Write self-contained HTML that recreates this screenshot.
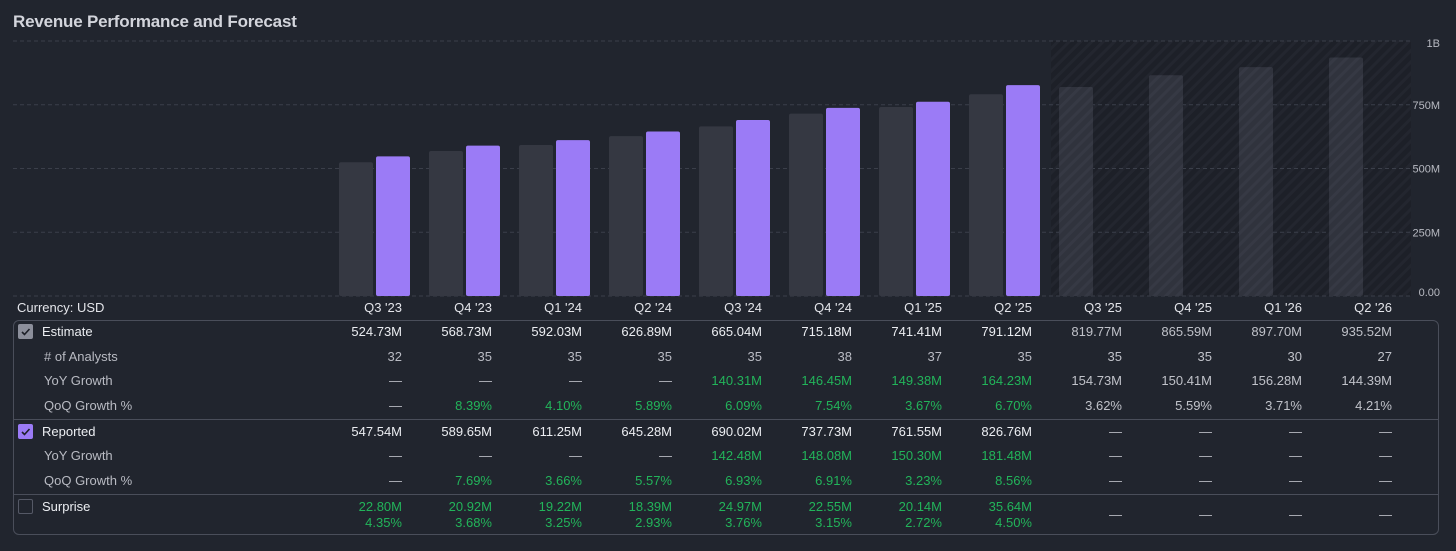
<!DOCTYPE html>
<html><head><meta charset="utf-8">
<style>
html,body{margin:0;padding:0;background:#21252e;width:1456px;height:551px;overflow:hidden;font-family:"Liberation Sans",sans-serif;}
#title{position:absolute;left:13px;top:12px;font-size:17px;font-weight:bold;color:#d3d5dc;letter-spacing:-0.2px;}
svg{position:absolute;left:0;top:0;}
.t{position:absolute;font-size:13px;white-space:nowrap;}
#box{position:absolute;left:13px;top:320px;width:1426px;height:215px;border:1px solid #4a4e5a;border-radius:6px;box-sizing:border-box;}
.div{position:absolute;left:13px;width:1426px;height:1px;background:#4a4e5a;}
.cb{position:absolute;width:15px;height:15px;border-radius:2px;box-sizing:border-box;}
</style></head><body>
<div id="title">Revenue Performance and Forecast</div>
<svg id="chart" width="1456" height="551"></svg>
<div id="box"></div>
<div id="table"></div>
<script>
const categories=["Q3 '23","Q4 '23","Q1 '24","Q2 '24","Q3 '24","Q4 '24","Q1 '25","Q2 '25","Q3 '25","Q4 '25","Q1 '26","Q2 '26"];
const estimate=[524.73,568.73,592.03,626.89,665.04,715.18,741.41,791.12,819.77,865.59,897.70,935.52];
const reported=[547.54,589.65,611.25,645.28,690.02,737.73,761.55,826.76,null,null,null,null];
const analysts=["32","35","35","35","35","38","37","35","35","35","30","27"];
const estYoY=["—","—","—","—","140.31M","146.45M","149.38M","164.23M","154.73M","150.41M","156.28M","144.39M"];
const estQoQ=["—","8.39%","4.10%","5.89%","6.09%","7.54%","3.67%","6.70%","3.62%","5.59%","3.71%","4.21%"];
const repYoY=["—","—","—","—","142.48M","148.08M","150.30M","181.48M","—","—","—","—"];
const repQoQ=["—","7.69%","3.66%","5.57%","6.93%","6.91%","3.23%","8.56%","—","—","—","—"];
const surpriseAbs=["22.80M","20.92M","19.22M","18.39M","24.97M","22.55M","20.14M","35.64M","—","—","—","—"];
const surprisePct=["4.35%","3.68%","3.25%","2.93%","3.76%","3.15%","2.72%","4.50%","","","",""];
const yTicks=[0,250,500,750,1000];
const yTickLabels=["0.00","250M","500M","750M","1B"];

const NS="http://www.w3.org/2000/svg";
const svg=document.getElementById('chart');
const y0=296,yTop=41,yMax=1000;
const y=v=>y0-(v/yMax)*(y0-yTop);
const xCol=i=>339+90*i; // estimate bar left
const rightEdge=i=>402+90*i;
function mk(tag,attrs){const e=document.createElementNS(NS,tag);for(const k in attrs)e.setAttribute(k,attrs[k]);svg.appendChild(e);return e;}
// defs
const defs=mk('defs',{});
defs.innerHTML='<pattern id="hatch" width="8" height="8" patternUnits="userSpaceOnUse" patternTransform="rotate(45)"><rect width="8" height="8" fill="#1d2028"/><rect width="3" height="8" fill="#23262f"/></pattern><pattern id="hatch2" width="8" height="8" patternUnits="userSpaceOnUse" patternTransform="rotate(45)"><rect width="8" height="8" fill="#30333d"/><rect width="3" height="8" fill="#363944"/></pattern>';
const firstF=reported.findIndex(v=>v===null);
const fr=mk('rect',{x:xCol(firstF)-8,y:yTop,width:1411-(xCol(firstF)-8),height:y0-yTop,fill:'url(#hatch)'});


yTicks.forEach((t,k)=>{
  const l=mk('line',{x1:13,x2:1411,y1:y(t),y2:y(t),stroke:'#3b3f4a','stroke-dasharray':'4 3','stroke-width':1});
  
  
  const tx=mk('text',{x:1440,y:y(t)+4+(k==0?-4:0)+(k==4?2:0),'text-anchor':'end','font-size':11,fill:'#b8bac2','font-family':'Liberation Sans'});
  tx.textContent=yTickLabels[k];
  
  
});
categories.forEach((c,i)=>{
  const f=reported[i]===null;
  const b=mk('rect',{x:xCol(i),y:y(estimate[i]),width:34,height:y0-y(estimate[i]),rx:2,fill:f?'url(#hatch2)':'#353842'});
  
  
  if(!f){
    const r=mk('rect',{x:xCol(i)+37,y:y(reported[i]),width:34,height:y0-y(reported[i]),rx:2,fill:'#9b7bf6'});
    
    
  }
});
// table
const T=document.getElementById('table');
function txt(s,x,yy,color,anchorRight,name){
  const d=document.createElement('div');d.className='t';d.textContent=s;d.style.color=color;d.style.top=(yy-8)+'px';
  if(anchorRight){d.style.right=(1456-x)+'px';}else d.style.left=x+'px';
  
  
  T.appendChild(d);
}
txt('Currency: USD',17,308,'#e4e5ea',false,'currency-label');
categories.forEach((c,i)=>txt(c,rightEdge(i),308,'#e4e5ea',true,'x-axis-label'));
const W='#eceef2',G='#c0c2c9',GR='#22b45a',LG='#b9bbc3';
function colorFor(s,i,base){ if(s==='—')return LG; const f=reported[i]===null; if(base==='g')return f?G:GR; return f?G:W;}
const rows=[
 {label:'Estimate',y:332,vals:estimate.map(v=>v.toFixed(2)+'M'),b:'w',main:true,name:'estimate-row'},
 {label:'# of Analysts',y:357,vals:analysts,b:'a',name:'analysts-row'},
 {label:'YoY Growth',y:381,vals:estYoY,b:'g',name:'estimate-yoy-row'},
 {label:'QoQ Growth %',y:406,vals:estQoQ,b:'g',name:'estimate-qoq-row'},
 {label:'Reported',y:432,vals:reported.map(v=>v===null?'—':v.toFixed(2)+'M'),b:'w',main:true,name:'reported-row'},
 {label:'YoY Growth',y:456,vals:repYoY,b:'g',name:'reported-yoy-row'},
 {label:'QoQ Growth %',y:481,vals:repQoQ,b:'g',name:'reported-qoq-row'},
];
rows.forEach(r=>{
  txt(r.label,r.main?42:44,r.y,r.main?W:LG,false,r.name+'-label');
  r.vals.forEach((v,i)=>{
    let c;
    if(r.b==='a')c=reported[i]===null?G:LG;
    else c=colorFor(v,i,r.b);
    txt(v,rightEdge(i),r.y,c,true,r.name+'-value');
  });
});
txt('Surprise',42,507,W,false,'surprise-label');
surpriseAbs.forEach((v,i)=>{
  if(v==='—'){txt(v,rightEdge(i),515,LG,true,'surprise-value');}
  else{txt(v,rightEdge(i),507,GR,true,'surprise-value');txt(surprisePct[i],rightEdge(i),523,GR,true,'surprise-pct');}
});
[419,494].forEach(yy=>{const d=document.createElement('div');d.className='div';d.style.top=yy+'px';


T.appendChild(d);});
function cb(yy,bg,border,check,name){
  const d=document.createElement('div');d.className='cb';d.style.left='18px';d.style.top=(yy-8)+'px';d.style.background=bg;d.style.border='1px solid '+border;
  if(check)d.innerHTML='<svg width="13" height="13" style="position:static"><path d="M3 7 L5.5 9.5 L10.5 4" stroke="#1c1f27" stroke-width="1.6" fill="none"/></svg>';
  
  
  T.appendChild(d);
}
cb(332,'#8c8f9b','#8c8f9b',true,'estimate-checkbox');
cb(432,'#9b7bf6','#9b7bf6',true,'reported-checkbox');
cb(507,'transparent','#555966',false,'surprise-checkbox');
</script>
</body></html>
